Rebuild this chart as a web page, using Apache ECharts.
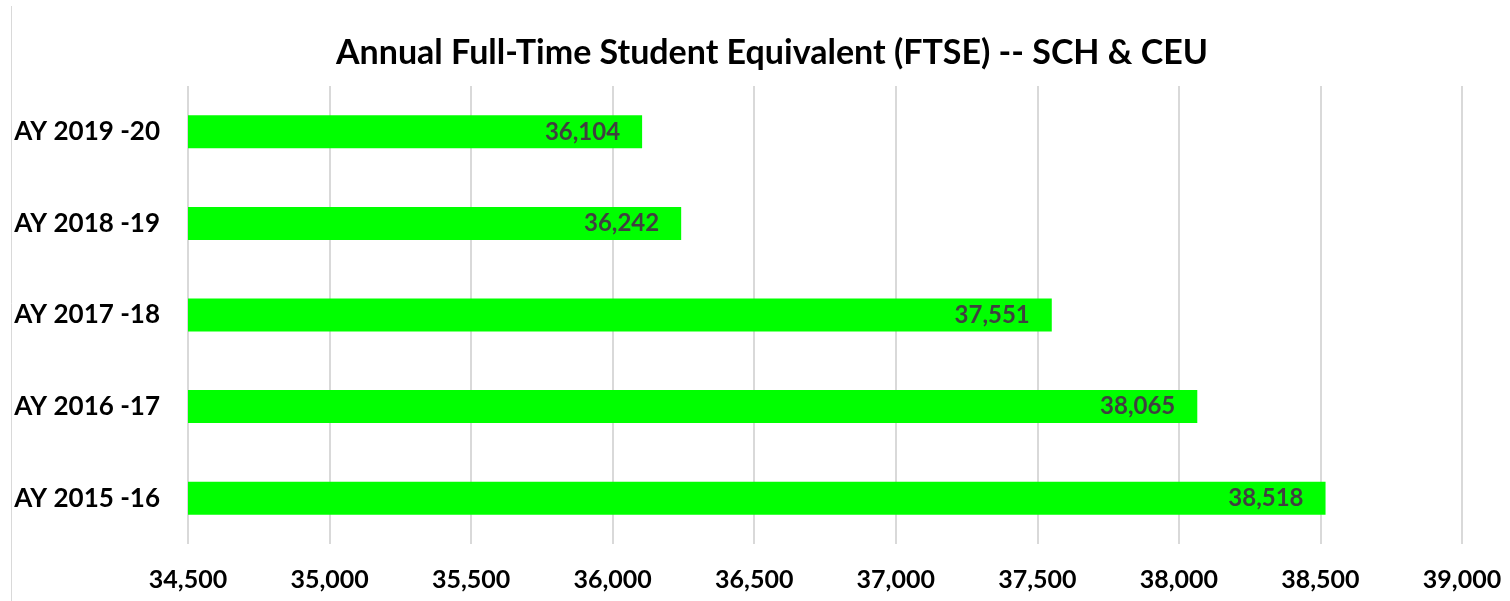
<!DOCTYPE html>
<html>
<head>
<meta charset="utf-8">
<script src="https://cdn.jsdelivr.net/npm/echarts@6/dist/echarts.min.js"></script>
<style>
  html, body { margin: 0; padding: 0; background: #ffffff; }
  #chart { width: 1510px; height: 601px; }
</style>
</head>
<body>
<div id="chart"></div>
<script>
// Academic years, listed bottom to top on the category axis
const years = ['AY 2015 -16', 'AY 2016 -17', 'AY 2017 -18', 'AY 2018 -19', 'AY 2019 -20'];
// Annual FTSE (SCH & CEU) for each year
const ftse = [38518, 38065, 37551, 36242, 36104];
// Value axis range and step
const axisMin = 34500;
const axisMax = 39000;
const axisStep = 500;

const font = 'Lato, "Open Sans", sans-serif';
const chart = echarts.init(document.getElementById('chart'));

chart.setOption({
  backgroundColor: '#ffffff',
  animation: false,
  title: {
    text: 'Annual Full-Time Student Equivalent (FTSE) -- SCH & CEU',
    left: 331,
    top: 31,
    textStyle: { fontFamily: font, fontSize: 34, fontWeight: 'bold', color: '#000000' }
  },
  graphic: [{
    type: 'line',
    shape: { x1: 11.5, y1: 6, x2: 11.5, y2: 601 },
    style: { stroke: '#d9d9d9', lineWidth: 1 }
  }],
  grid: { left: 188, right: 48, top: 86, bottom: 57, containLabel: false },
  xAxis: {
    type: 'value',
    min: axisMin,
    max: axisMax,
    interval: axisStep,
    axisLine: { show: false },
    axisTick: { show: false },
    splitLine: { show: true, lineStyle: { color: '#d9d9d9', width: 2 } },
    axisLabel: {
      margin: 23,
      fontFamily: font, fontSize: 25, fontWeight: 'bold', color: '#000000',
      formatter: v => v.toLocaleString('en-US')
    }
  },
  yAxis: {
    type: 'category',
    data: years,
    axisLine: { show: false },
    axisTick: { show: false },
    axisLabel: {
      margin: 28,
      fontFamily: font, fontSize: 26, fontWeight: 'bold', color: '#000000'
    }
  },
  series: [{
    type: 'bar',
    data: ftse,
    barWidth: '36%',
    itemStyle: { color: '#00ff00' },
    label: {
      show: true,
      position: 'insideRight',
      distance: 22,
      fontFamily: font, fontSize: 24, fontWeight: 'bold', color: '#404040',
      formatter: p => p.value.toLocaleString('en-US')
    }
  }]
});
</script>
</body>
</html>
